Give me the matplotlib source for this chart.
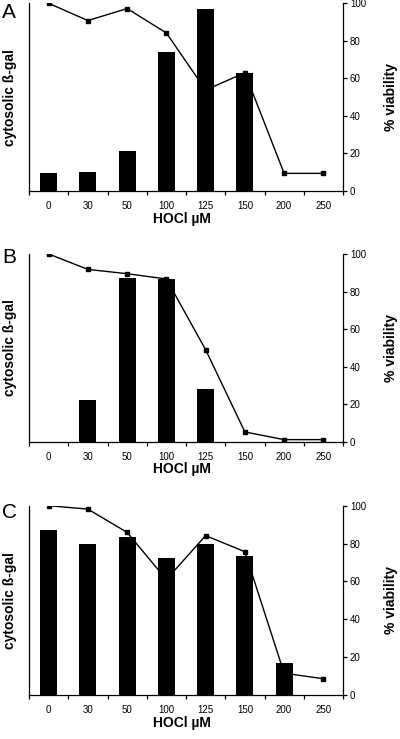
import numpy as np
import matplotlib
matplotlib.use('Agg')
import matplotlib.pyplot as plt
from matplotlib.ticker import FixedLocator

plt.rcParams['font.family'] = ['Liberation Sans', 'DejaVu Sans']

# Dados

doses = ['0', '30', '50', '100', '125', '150', '200', '250']

gal_A = [9.4, 10.1, 21.3, 74.2, 97.2, 63.0, 0, 0]
viab_A = [100, 90.8, 97.2, 84.2, 53.8, 63.0, 9.4, 9.4]

gal_B = [0, 22.2, 87.4, 86.7, 28.2, 0, 0, 0]
viab_B = [100, 91.8, 89.5, 86.7, 49.0, 5.2, 1.1, 1.1]

gal_C = [87.1, 79.6, 83.3, 72.3, 79.6, 73.5, 16.7, 0]
viab_C = [100, 98.2, 85.9, 61.0, 84.2, 75.7, 11.5, 8.6]

letras = ['A', 'B', 'C']
gal = [gal_A, gal_B, gal_C]
viab = [viab_A, viab_B, viab_C]

# posicao dos paineis em pixels (topo, base)
W, H = 400, 739
paineis = [(3.3, 191.0), (254.0, 441.7), (505.7, 695.0)]
letra_topo = [3, 248, 503]

fig = plt.figure(figsize=(W / 100, H / 100), dpi=100)
x = np.arange(len(doses))

for i in range(3):
    topo, base = paineis[i]
    ax = fig.add_axes([29 / W, 1 - base / H, (343 - 29) / W, (base - topo) / H])

    # linha de viabilidade atras das barras
    ax.plot(x, viab[i], color='black', lw=1, marker='s', markersize=3.2, zorder=1)
    ax.bar(x, gal[i], width=0.43, color='black', linewidth=0, zorder=2)

    ax.set_xlim(-0.5, len(doses) - 0.5)
    ax.set_ylim(0, 100)
    ax.spines['top'].set_visible(False)
    for s in ['left', 'bottom', 'right']:
        ax.spines[s].set_linewidth(0.9)

    ax.set_xticks(x)
    ax.set_xticklabels(doses, fontsize=7)
    ax.xaxis.set_minor_locator(FixedLocator(np.arange(-0.5, len(doses), 1)))
    ax.tick_params(axis='x', which='major', length=0, pad=7.5)
    ax.tick_params(axis='x', which='minor', length=3, direction='out', width=0.9)

    ax.yaxis.tick_right()
    ax.set_yticks([0, 20, 40, 60, 80, 100])
    ax.tick_params(axis='y', length=3, direction='out', width=0.9, labelsize=7, pad=2)

    # textos
    meio = (topo + base) / 2
    fig.text(2 / W, 1 - letra_topo[i] / H, letras[i], fontsize=15, ha='left', va='top')
    fig.text(10 / W, 1 - meio / H, 'cytosolic ß-gal', fontsize=10, fontweight='bold',
             rotation=90, ha='center', va='center')
    fig.text(391.5 / W, 1 - meio / H, '% viability', fontsize=10, fontweight='bold',
             rotation=90, ha='center', va='center')
    fig.text(182 / W, 1 - (base + 27.5) / H, 'HOCl µM', fontsize=10, fontweight='bold',
             ha='center', va='center')

plt.savefig('out.png', dpi=100)
